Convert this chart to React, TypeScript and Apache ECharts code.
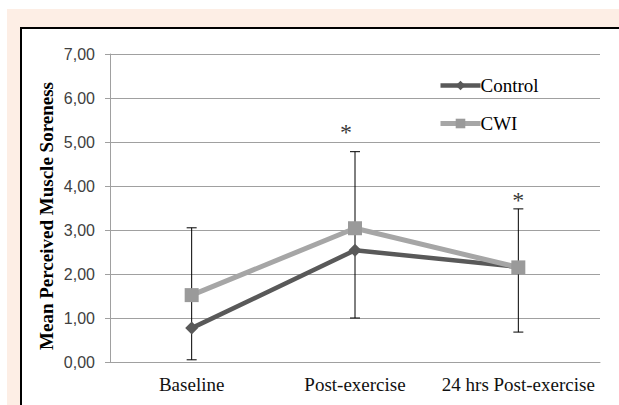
import React, { useEffect, useRef } from "react";
import * as echarts from "echarts";

const categories = ["Baseline", "Post-exercise", "24 hrs Post-exercise"];
const controlValues = [0.77, 2.54, 2.16];
const cwiValues = [1.52, 3.04, 2.15];
const errorLow = [0.05, 1.0, 0.68];
const errorHigh = [3.05, 4.78, 3.48];
const asteriskValues: (number | null)[] = [null, 5.35, 3.8];
const asteriskShift = [0, -9, 0];
const yTicks = [0, 1, 2, 3, 4, 5, 6, 7];
const yTitle = "Mean Perceived Muscle Soreness";

export default function App() {
  const ref = useRef<HTMLDivElement>(null);
  useEffect(() => {
    const chart = echarts.init(ref.current!, undefined, { renderer: "svg" });
    const errData = categories.map((_, i) => [i, errorLow[i], errorHigh[i]]);
    const starData = asteriskValues
      .map((v, i) =>
        v == null
          ? null
          : {
              value: [i, v],
              label: { offset: [asteriskShift[i], 5], color: "#000000", textBorderWidth: 0 },
            }
      )
      .filter((d) => d != null);
    chart.setOption({
      animation: false,
      backgroundColor: "#ffffff",
      textStyle: { fontFamily: "Liberation Serif" },
      graphic: [
        { type: "rect", shape: { x: 7, y: 9, width: 640, height: 420 }, style: { fill: "#fdeee5" }, z: -10 },
        { type: "rect", shape: { x: 21, y: 28, width: 640, height: 420 }, style: { fill: "#ffffff", stroke: "#000000", lineWidth: 2 }, z: -9 },
        {
          type: "text",
          x: 46,
          y: 216,
          rotation: Math.PI / 2,
          style: {
            text: yTitle,
            align: "center",
            verticalAlign: "middle",
            fontFamily: "Liberation Serif",
            fontSize: 19,
            fontWeight: "bold",
            fill: "#000",
          },
        },
      ],
      grid: { left: 110, right: 19, top: 54, bottom: 43 },
      legend: {
        orient: "vertical",
        left: 433,
        top: 71,
        itemWidth: 40,
        itemHeight: 12,
        itemGap: 19,
        data: [
          { name: "Control", lineStyle: { width: 4.5, color: "#595959" }, itemStyle: { color: "#595959" } },
          { name: "CWI", lineStyle: { width: 5, color: "#a6a6a6" }, itemStyle: { color: "#9a9a9a" } },
        ],
        textStyle: { fontFamily: "Liberation Serif", fontSize: 19, color: "#000", padding: [0, 0, 0, -5] },
      },
      xAxis: {
        type: "category",
        data: categories,
        boundaryGap: true,
        axisLine: { lineStyle: { color: "#a0a0a0", width: 1 } },
        axisTick: { show: false },
        axisLabel: { interval: 0, margin: 13, fontFamily: "Liberation Serif", fontSize: 19, color: "#111" },
      },
      yAxis: {
        type: "value",
        min: 0,
        max: 7,
        interval: 1,
        axisLine: { show: true, lineStyle: { color: "#a0a0a0", width: 1 } },
        axisTick: { show: true, length: 5, lineStyle: { color: "#a0a0a0" } },
        splitLine: { lineStyle: { color: "#a0a0a0", width: 1 } },
        axisLabel: {
          margin: 15,
          fontFamily: "Liberation Sans",
          fontSize: 16,
          color: "#404040",
          formatter: (v: number) => (yTicks.includes(v) ? v.toFixed(2).replace(".", ",") : ""),
        },
      },
      series: [
        {
          name: "Error",
          type: "custom",
          z: 1,
          data: errData,
          encode: { x: 0, y: [1, 2] },
          renderItem: (params: any, api: any) => {
            const lo = api.coord([api.value(0), api.value(1)]);
            const hi = api.coord([api.value(0), api.value(2)]);
            const w = 5;
            const style = { stroke: "#000", lineWidth: 1 };
            return {
              type: "group",
              children: [
                { type: "line", shape: { x1: lo[0], y1: lo[1], x2: hi[0], y2: hi[1] }, style },
                { type: "line", shape: { x1: lo[0] - w, y1: lo[1], x2: lo[0] + w, y2: lo[1] }, style },
                { type: "line", shape: { x1: hi[0] - w, y1: hi[1], x2: hi[0] + w, y2: hi[1] }, style },
              ],
            };
          },
        },
        {
          name: "Control",
          type: "line",
          z: 3,
          data: controlValues,
          symbol: "diamond",
          symbolSize: 13,
          lineStyle: { color: "#595959", width: 4.5 },
          itemStyle: { color: "#595959" },
        },
        {
          name: "CWI",
          type: "line",
          z: 4,
          data: cwiValues,
          symbol: "rect",
          symbolSize: 14,
          lineStyle: { color: "#a6a6a6", width: 5 },
          itemStyle: { color: "#9a9a9a" },
        },
        {
          name: "Asterisk",
          type: "scatter",
          z: 5,
          data: starData,
          symbolSize: 0,
          silent: true,
          itemStyle: { color: "#000000" },
          label: {
            show: true,
            formatter: "*",
            position: "inside",
            fontFamily: "Liberation Serif",
            fontSize: 24,
            color: "#000000",
          },
        },
      ],
    });
    return () => chart.dispose();
  }, []);
  return <div ref={ref} style={{ position: "fixed", left: 0, top: 0, width: 619, height: 405 }} />;
}
